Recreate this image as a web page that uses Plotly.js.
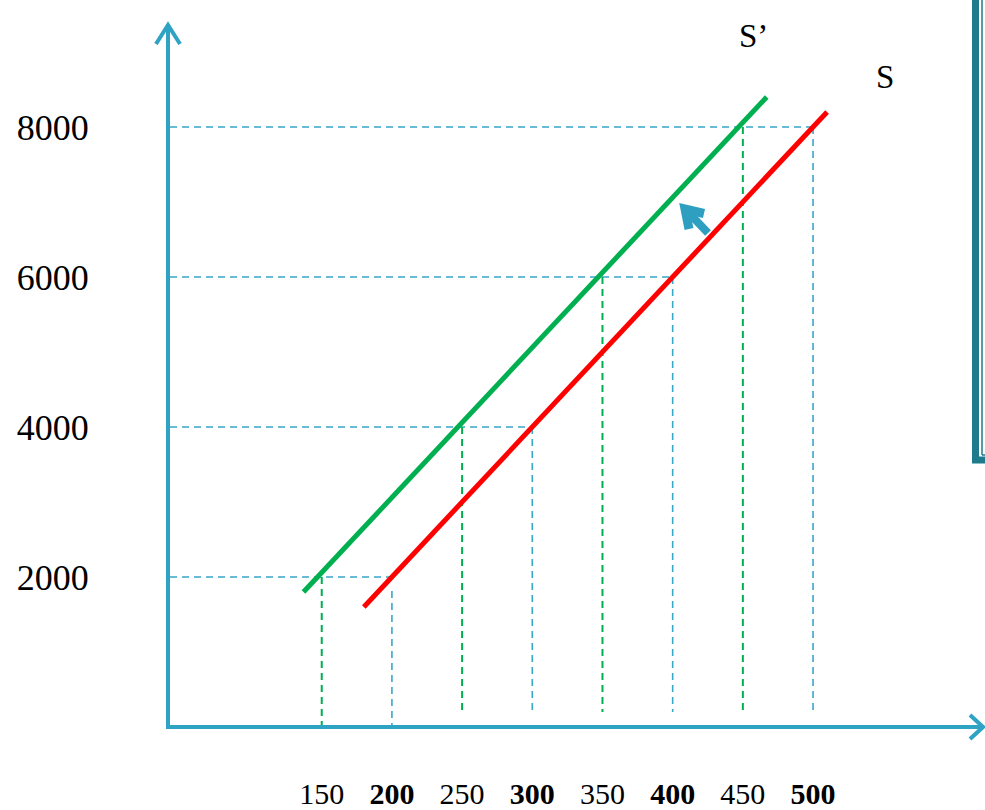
<!DOCTYPE html>
<html>
<head>
<meta charset="utf-8">
<script src="https://cdn.plot.ly/plotly-3.0.1.min.js"></script>
<style>html,body{margin:0;padding:0;background:#fff;}#chart{width:985px;height:810px;}</style>
</head>
<body>
<div id="chart"></div>
<script>
// ---- data ----
const qTicks = [150, 200, 250, 300, 350, 400, 450, 500];
const qTickText = ['150', '<b>200</b>', '250', '<b>300</b>', '350', '<b>400</b>', '450', '<b>500</b>'];
const pTicks = [2000, 4000, 6000, 8000];
const pTickText = ['2000', '4000', '6000', '8000'];
// supply curve S (red) and shifted supply S' (green)
const sQ = [180, 510];
const sP = [1600, 8200];
const s2Q = [137, 467];
const s2P = [1800, 8400];
// reference points on each curve
const sPointQ = [200, 300, 400, 500];
const s2PointQ = [150, 250, 350, 450];
const pointP = [2000, 4000, 6000, 8000];
const curveNames = ['S’', 'S'];

// ---- layout helpers ----
const W = 985, H = 810;
const ml = 170, mr = 1, mt = 24, mb = 85;
const plotW = W - ml - mr, plotH = H - mt - mb;
const xRange = [41.9, 621.8];
const yRange = [26.7, 9373];
const px = v => (v - ml) / plotW;
const py = v => (H - mb - v) / plotH;
const pt = (x, y) => `${px(x)} ${py(y)}`;

const teal = '#2ea3c4';
const dashBlue = '#3aa7c9';
const green = '#00b050';
const red = '#ff0000';
const arrowCol = '#2e9fc0';

const traces = [];
// horizontal dashed lines from the price axis to the S curve
pointP.forEach((p, i) => {
  traces.push({x: [xRange[0], sPointQ[i]], y: [p, p], mode: 'lines',
    line: {color: dashBlue, width: 1.6, dash: '7px,5px'}, hoverinfo: 'skip'});
});
// vertical dashed lines down from S' points (green)
s2PointQ.forEach((q, i) => {
  traces.push({x: [q, q], y: [pointP[i], q <= 200 ? 0 : 200], mode: 'lines',
    line: {color: green, width: 2, dash: '7px,5px'}, hoverinfo: 'skip'});
});
// vertical dashed lines down from S points (blue)
sPointQ.forEach((q, i) => {
  traces.push({x: [q, q], y: [i === 0 ? 1813 : pointP[i], q <= 200 ? 0 : 200], mode: 'lines',
    line: {color: dashBlue, width: 1.6, dash: '7px,5px'}, hoverinfo: 'skip'});
});
traces.push({x: s2Q, y: s2P, mode: 'lines', name: curveNames[0], line: {color: green, width: 5}});
traces.push({x: sQ, y: sP, mode: 'lines', name: curveNames[1], line: {color: red, width: 5}});

const serif = 'Liberation Serif, Times New Roman, serif';

const layout = {
  width: W, height: H,
  margin: {l: ml, r: mr, t: mt, b: mb, pad: 0},
  paper_bgcolor: '#ffffff', plot_bgcolor: '#ffffff',
  showlegend: false,
  xaxis: {range: xRange, showgrid: false, zeroline: false, showline: true,
    linecolor: teal, linewidth: 4, ticks: '', tickvals: qTicks, ticktext: qTickText,
    tickfont: {family: serif, size: 30, color: '#000'}, ticklabelstandoff: 39, fixedrange: true},
  yaxis: {range: yRange, showgrid: false, zeroline: false, showline: true,
    linecolor: teal, linewidth: 4, ticks: '', tickvals: pTicks, ticktext: pTickText,
    tickfont: {family: serif, size: 36, color: '#000'}, ticklabelstandoff: 70, fixedrange: true},
  shapes: [
    // arrow heads of the axes
    {type: 'path', xref: 'paper', yref: 'paper', line: {color: teal, width: 4},
     path: `M ${pt(156, 44)} L ${pt(168, 25)} L ${pt(180, 44)}`},
    {type: 'path', xref: 'paper', yref: 'paper', line: {color: teal, width: 4},
     path: `M ${pt(970, 715)} L ${pt(983, 727)} L ${pt(970, 739)}`},
    // shift arrow between the curves
    {type: 'path', xref: 'paper', yref: 'paper', line: {color: arrowCol, width: 8},
     path: `M ${pt(686, 210)} L ${pt(708, 233)}`},
    {type: 'path', xref: 'paper', yref: 'paper', line: {color: arrowCol, width: 9},
     path: `M ${pt(689, 229)} L ${pt(685, 209)} L ${pt(704, 213.5)}`},
    // partial text box at the right edge
    {type: 'rect', xref: 'paper', yref: 'paper', x0: px(975.5), x1: px(1010), y0: py(460), y1: py(-20),
     line: {color: '#1f7a8c', width: 7}, fillcolor: 'rgba(0,0,0,0)'},
    {type: 'line', xref: 'paper', yref: 'paper', x0: px(982), x1: px(982), y0: py(455), y1: py(-5),
     line: {color: '#1f7a8c', width: 1.5}},
    {type: 'line', xref: 'paper', yref: 'paper', x0: px(982), x1: px(990), y0: py(455), y1: py(455),
     line: {color: '#1f7a8c', width: 1.5}}
  ],
  annotations: [
    {xref: 'paper', yref: 'paper', x: px(753), y: py(36), text: curveNames[0], showarrow: false,
     font: {family: serif, size: 33, color: '#000'}, xanchor: 'center', yanchor: 'middle'},
    {xref: 'paper', yref: 'paper', x: px(885), y: py(77), text: curveNames[1], showarrow: false,
     font: {family: serif, size: 33, color: '#000'}, xanchor: 'center', yanchor: 'middle'}
  ]
};

Plotly.newPlot('chart', traces, layout, {staticPlot: true, displayModeBar: false});
</script>
</body>
</html>
